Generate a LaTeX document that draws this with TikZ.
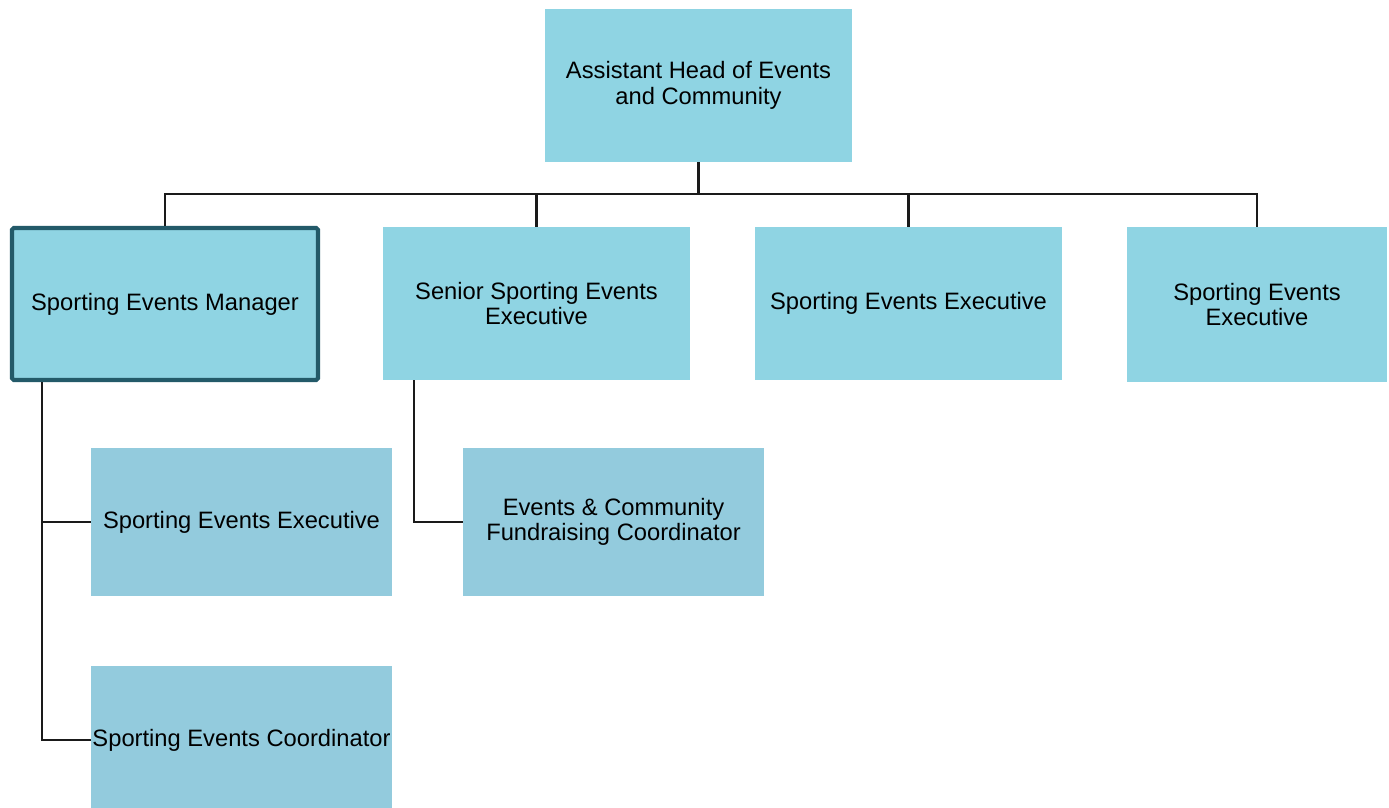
\documentclass[tikz,border=0pt]{standalone}
\usepackage{fontspec}
\setmainfont{Liberation Sans}
\usepackage{xcolor}
\usepackage{tikz}
\usetikzlibrary{calc,positioning}

\definecolor{toprow}{RGB}{143,212,227}
\definecolor{subrow}{RGB}{147,203,221}
\definecolor{mgrline}{RGB}{35,90,105}
\definecolor{linkcol}{RGB}{26,26,26}

\begin{document}
\begin{tikzpicture}[font=\fontsize{13.5pt}{14.5pt}\selectfont]
    \tikzset{
      role/.style={fill=toprow, align=center, inner sep=0pt, minimum width=6.14cm, minimum height=3.06cm},
      subrole/.style={fill=subrow, align=center, inner sep=0pt, minimum width=6.02cm, minimum height=2.96cm},
      lead/.style={role, draw=mgrline, line width=2.3pt, rounded corners=1pt, minimum width=6.12cm, minimum height=3.04cm},
      link/.style={draw=linkcol, line width=1.3pt}
    }
    \useasboundingbox (0,0) rectangle (27.78,-16.14);

    % head of the unit
    \node[role] (head) at (13.97,-1.71) {Assistant Head of Events\\and Community};

    % first line of reports
    \node[lead] (mgr) at (3.30,-6.08) {Sporting Events Manager};
    \node[role] (senior) at (10.73,-6.07) {Senior Sporting Events\\Executive};
    \node[role] (exec) at (18.17,-6.07) {Sporting Events Executive};
    \node[role, minimum width=5.2cm, minimum height=3.1cm] (execb) at (25.14,-6.09)
      {Sporting Events\\Executive};

    % second line
    \node[subrole] (subexec) at (4.83,-10.44) {Sporting Events Executive};
    \node[subrole] (coord) at (4.83,-14.8) {Sporting Events Coordinator};
    \node[subrole] (fund) at (12.27,-10.44) {Events \& Community\\Fundraising Coordinator};

    \foreach \n in {mgr,senior,exec,execb}
      \draw[link] (head.south) -- ++(0,-0.64) -| (\n.north);
    \draw[link] ($(mgr.south west)+(0.64,0)$) |- (subexec.west);
    \draw[link] ($(mgr.south west)+(0.64,0)$) |- (coord.west);
    \draw[link] ($(senior.south west)+(0.62,0)$) |- (fund.west);
  \end{tikzpicture}
\end{document}
